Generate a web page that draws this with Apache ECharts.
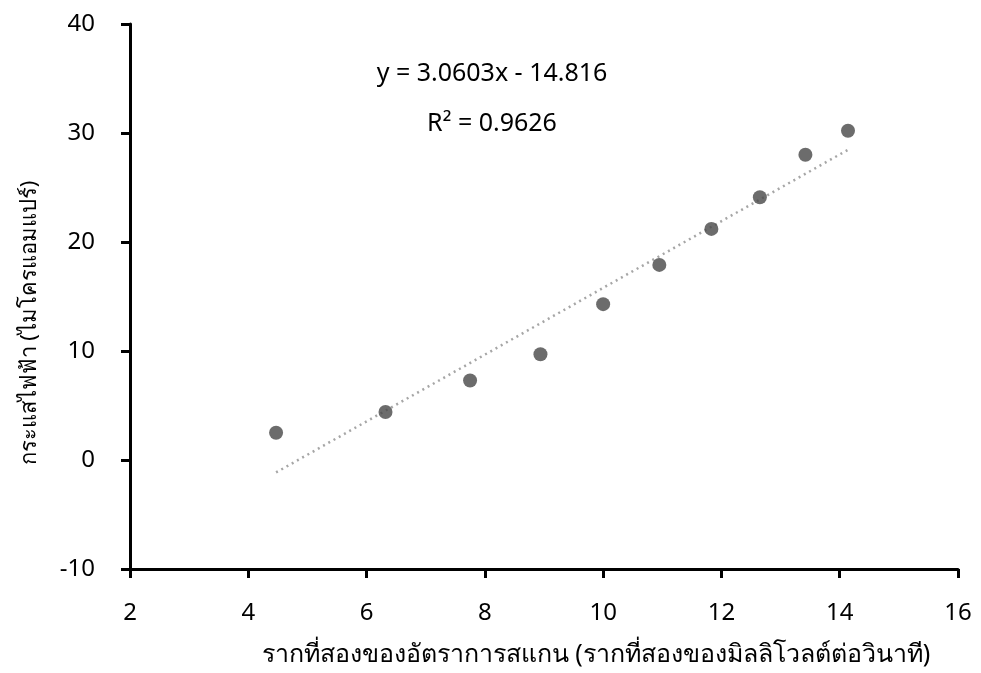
<!DOCTYPE html>
<html>
<head>
<meta charset="utf-8">
<script src="https://cdn.jsdelivr.net/npm/echarts@6/dist/echarts.min.js"></script>
<style>
  html, body { margin: 0; padding: 0; background: #fff; }
  #chart { width: 981px; height: 673px; }
</style>
</head>
<body>
<div id="chart"></div>
<script>
// Square root of scan rate (sqrt(mV/s)) and measured current (µA)
const sqrtScanRate = [4.47, 6.32, 7.75, 8.94, 10.0, 10.95, 11.83, 12.65, 13.42, 14.14];
const currentMicroAmp = [2.5, 4.4, 7.3, 9.7, 14.3, 17.9, 21.2, 24.1, 28.0, 30.2];

// Linear trendline endpoints, y = 3.0603x - 14.816 at the first and last x
const trendX = [4.47, 14.14];
const trendY = [-1.14, 28.46];

const equationText = 'y = 3.0603x - 14.816';
const r2Text = 'R² = 0.9626';

const xTitle = 'รากที่สองของอัตราการสแกน (รากที่สองของมิลลิโวลต์ต่อวินาที)';
const yTitle = 'กระแสไฟฟ้า (ไมโครแอมแปร์)';

const fontFamily = '"Noto Sans", Tahoma, "DejaVu Sans", sans-serif';

const chart = echarts.init(document.getElementById('chart'));
chart.setOption({
  animation: false,
  backgroundColor: '#ffffff',
  grid: { left: 130, right: 23, top: 24, bottom: 104, containLabel: false },
  xAxis: {
    type: 'value', min: 2, max: 16, interval: 2,
    axisLine: { show: true, onZero: false, lineStyle: { color: '#000', width: 3 } },
    axisTick: { show: true, inside: false, length: 9, lineStyle: { color: '#000', width: 3 } },
    axisLabel: { fontFamily, fontSize: 24, color: '#000', margin: 32 },
    splitLine: { show: false }
  },
  yAxis: {
    type: 'value', min: -10, max: 40, interval: 10,
    axisLine: { show: true, onZero: false, lineStyle: { color: '#000', width: 3 } },
    axisTick: { show: true, inside: false, length: 9, lineStyle: { color: '#000', width: 3 } },
    axisLabel: { fontFamily, fontSize: 24, color: '#000', margin: 35 },
    splitLine: { show: false }
  },
  graphic: [
    { type: 'text', x: 492, y: 74, style: { text: equationText, align: 'center', verticalAlign: 'middle', font: '25px ' + fontFamily, fill: '#000' } },
    { type: 'text', x: 492, y: 124, style: { text: r2Text, align: 'center', verticalAlign: 'middle', font: '25px ' + fontFamily, fill: '#000' } },
    { type: 'text', x: 596, y: 655, style: { text: xTitle, align: 'center', verticalAlign: 'middle', font: '25px ' + fontFamily, fill: '#000' } },
    { type: 'text', x: 30, y: 323, rotation: Math.PI / 2, style: { text: yTitle, align: 'center', verticalAlign: 'middle', font: '22px ' + fontFamily, fill: '#000' } }
  ],
  series: [
    {
      type: 'line',
      data: trendX.map((x, i) => [x, trendY[i]]),
      symbol: 'none',
      lineStyle: { color: '#a6a6a6', width: 2.5, type: [2, 4] },
      z: 1,
      silent: true
    },
    {
      type: 'scatter',
      data: sqrtScanRate.map((x, i) => [x, currentMicroAmp[i]]),
      symbol: 'circle',
      symbolSize: 14,
      itemStyle: { color: '#474747' },
      z: 2
    }
  ]
});
</script>
</body>
</html>
